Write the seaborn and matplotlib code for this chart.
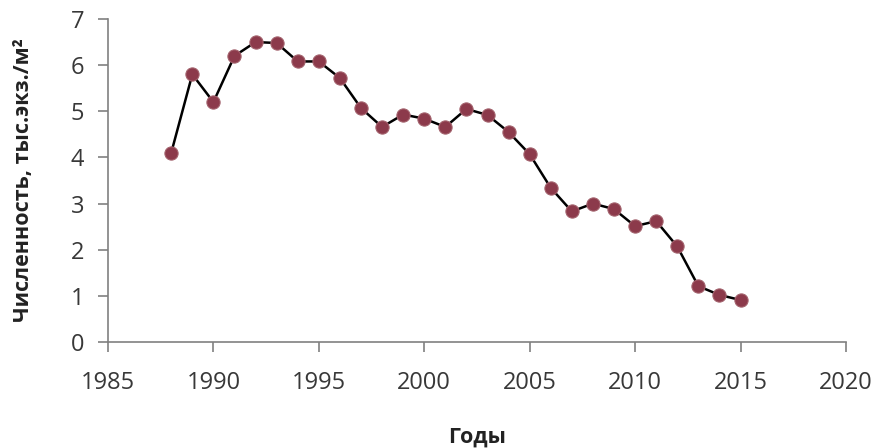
import matplotlib
matplotlib.use('Agg')
import matplotlib.pyplot as plt
import pandas as pd
import seaborn as sns

years = list(range(1988, 2016))
values = [4.1, 5.8, 5.2, 6.2, 6.5, 6.48, 6.08, 6.08, 5.72, 5.07,
          4.66, 4.93, 4.84, 4.66, 5.05, 4.92, 4.55, 4.07, 3.34, 2.83,
          3.0, 2.88, 2.51, 2.62, 2.07, 1.21, 1.02, 0.91]
x_ticks = [1985, 1990, 1995, 2000, 2005, 2010, 2015, 2020]
y_ticks = [0, 1, 2, 3, 4, 5, 6, 7]

df = pd.DataFrame({'year': years, 'value': values})

sns.set_style('white')
plt.rcParams['font.family'] = ['Open Sans', 'DejaVu Sans']

fig = plt.figure(figsize=(8.8, 4.48), dpi=100)
ax = fig.add_axes([0.1227, 0.2366, 0.8386, 0.721])

sns.lineplot(data=df, x='year', y='value', ax=ax, color='black', linewidth=1.8,
             marker='o', markersize=9.5, markerfacecolor='#8c3a4b',
             markeredgecolor='#a2606b', markeredgewidth=0.8)

ax.set_xlim(1985, 2020)
ax.set_ylim(0, 7)
ax.set_xticks(x_ticks)
ax.set_yticks(y_ticks)
ax.tick_params(axis='both', direction='out', length=7, width=1.2, color='#808080',
               labelsize=17, labelcolor='#383838')
ax.tick_params(axis='y', pad=10, left=True)
ax.tick_params(axis='x', pad=14, bottom=True)

for side in ['top', 'right']:
    ax.spines[side].set_visible(False)
for side in ['left', 'bottom']:
    ax.spines[side].set_color('#808080')
    ax.spines[side].set_linewidth(1.2)

ax.set_xlabel('Годы', fontsize=15.5, fontweight='bold', color='#222222')
ax.set_ylabel('Численность, тыс.экз./м²', fontsize=15.5, fontweight='bold',
              color='#222222')
ax.xaxis.label.set_va('center')
ax.yaxis.label.set_va('center')
ax.xaxis.set_label_coords(0.5, -0.294)
ax.yaxis.set_label_coords(-0.114, 0.5)

fig.savefig('out.png', dpi=100)
